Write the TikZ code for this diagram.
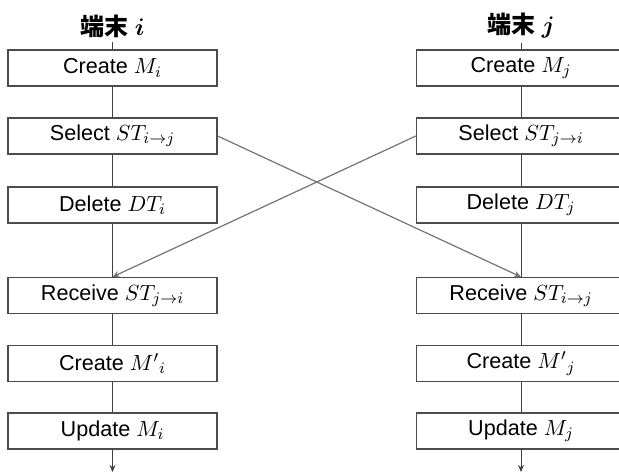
\documentclass[tikz,border=0pt]{standalone}
\usepackage{fontspec}
\setmainfont{Liberation Sans}
\newfontfamily\cjk{Noto Sans CJK JP}
\usepackage{bm}
\usetikzlibrary{arrows.meta}

\begin{document}
\begin{tikzpicture}[
  x=0.5pt, y=-0.5pt,
  stepbox/.style = {draw=black!70, line width=0.6pt, minimum width=104.5pt, minimum height=18pt,
                    inner sep=0pt, fill=white, font=\fontsize{10.8}{12}\selectfont},
  title/.style   = {font=\fontsize{12}{14}\selectfont\bfseries, inner sep=2pt},
  flow/.style    = {draw=black!75, line width=0.5pt},
  cross/.style   = {-{Stealth[length=3.5pt, width=3pt]}, draw=black!55, line width=0.6pt},
]
\useasboundingbox (0,0) rectangle (619,474);

% ---- terminal i -------------------------------------------------------------
\node[title]   (tI)       at (112.5, 26)  {{\cjk 端末} $\bm{i}$};
\node[stepbox] (lCreate)  at (112.5, 68)  {Create $M_i$};
\node[stepbox] (lSelect)  at (112.5,136)  {Select $ST_{i\to j}$};
\node[stepbox] (lDelete)  at (112.5,205)  {Delete $DT_i$};
\node[stepbox] (lRecv)    at (112.5,295.5){Receive $ST_{j\to i}$};
\node[stepbox] (lCreateP) at (112.5,363.5){Create ${M'}_i$};
\node[stepbox] (lUpdate)  at (112.5,431)  {Update $M_i$};
\coordinate    (lEnd)     at (112.5,472);

% ---- terminal j -------------------------------------------------------------
\node[title]   (tJ)       at (521, 26)  {{\cjk 端末} $\bm{j}$};
\node[stepbox] (rCreate)  at (521, 68)  {Create $M_j$};
\node[stepbox] (rSelect)  at (521,136)  {Select $ST_{j\to i}$};
\node[stepbox] (rDelete)  at (521,205)  {Delete $DT_j$};
\node[stepbox] (rRecv)    at (521,295.5){Receive $ST_{i\to j}$};
\node[stepbox] (rCreateP) at (521,363.5){Create ${M'}_j$};
\node[stepbox] (rUpdate)  at (521,431)  {Update $M_j$};
\coordinate    (rEnd)     at (521,472);

% ---- the two flows ----------------------------------------------------------
\draw[flow] (tI) -- (lCreate) -- (lSelect) -- (lDelete) -- (lRecv) -- (lCreateP) -- (lUpdate);
\draw[flow] (tJ) -- (rCreate) -- (rSelect) -- (rDelete) -- (rRecv) -- (rCreateP) -- (rUpdate);
\draw[flow, -{Stealth[length=3.5pt, width=3pt]}] (lUpdate) -- (lEnd);
\draw[flow, -{Stealth[length=3.5pt, width=3pt]}] (rUpdate) -- (rEnd);

% ---- exchange ---------------------------------------------------------------
\draw[cross] (lSelect.east) -- (rRecv.north);
\draw[cross] (rSelect.west) -- (lRecv.north);

\end{tikzpicture}
\end{document}
